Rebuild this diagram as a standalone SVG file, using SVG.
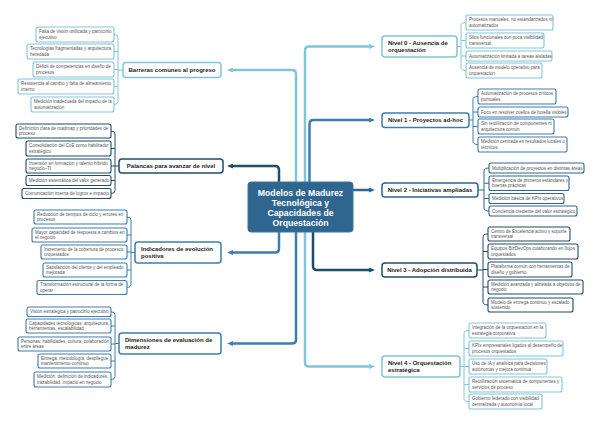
<svg xmlns="http://www.w3.org/2000/svg" width="600" height="425" viewBox="0 0 600 425">
<defs>
<style>
.lt{stroke:#80c5da}.md{stroke:#3d7eae}.dk{stroke:#1f4d6b}.nv{stroke:#2f6690}
.mn{fill:#fff;stroke-width:1.5}
.lf{fill:#fff;stroke-width:1.1}
.t1{font-family:"Liberation Sans",Arial,sans-serif;font-size:6px;font-weight:bold;fill:#1c1c1c}
.t2{font-family:"Liberation Sans",Arial,sans-serif;font-size:4.5px;fill:#555}
.tc{font-family:"Liberation Sans",Arial,sans-serif;font-size:8.7px;font-weight:bold;fill:#fff}
.cn{fill:none;stroke-width:2.5;stroke-linecap:butt}
.br{fill:none;stroke-width:1}
.mid{text-anchor:middle}
</style>
<marker id="aL" markerUnits="userSpaceOnUse" markerWidth="6" markerHeight="5" viewBox="0 0 6 5" refX="1" refY="2.5" orient="auto"><path d="M0,0L6,2.5L0,5z" fill="#80c5da"/></marker>
<marker id="aM" markerUnits="userSpaceOnUse" markerWidth="6" markerHeight="5" viewBox="0 0 6 5" refX="1" refY="2.5" orient="auto"><path d="M0,0L6,2.5L0,5z" fill="#3d7eae"/></marker>
<marker id="aD" markerUnits="userSpaceOnUse" markerWidth="6" markerHeight="5" viewBox="0 0 6 5" refX="1" refY="2.5" orient="auto"><path d="M0,0L6,2.5L0,5z" fill="#1f4d6b"/></marker>
<marker id="aN" markerUnits="userSpaceOnUse" markerWidth="6" markerHeight="5" viewBox="0 0 6 5" refX="1" refY="2.5" orient="auto"><path d="M0,0L6,2.5L0,5z" fill="#2f6690"/></marker>
</defs>
<rect width="600" height="425" fill="#fff"/>

<g id="connectors">
<path class="cn lt" d="M296,182V74Q296,70 292,70H232" marker-end="url(#aL)"/>
<path class="cn dk" d="M279,182V170Q279,166 275,166H232" marker-end="url(#aD)"/>
<path class="cn md" d="M279,232V248.5Q279,252.5 275,252.5H232" marker-end="url(#aM)"/>
<path class="cn md" d="M296,232V339.5Q296,343.5 292,343.5H232" marker-end="url(#aM)"/>
<path class="cn lt" d="M305,182V50.5Q305,46.5 309,46.5H370" marker-end="url(#aL)"/>
<path class="cn md" d="M309.5,182V124Q309.5,120 313.5,120H370" marker-end="url(#aM)"/>
<path class="cn nv" d="M353,190H370" marker-end="url(#aN)"/>
<path class="cn dk" d="M313,232V266Q313,270 317,270H370" marker-end="url(#aD)"/>
<path class="cn lt" d="M305,232V362.5Q305,366.5 309,366.5H370" marker-end="url(#aL)"/>
<path class="br lt" d="M114,34.5Q118,34.5 118,37.5V101.5Q118,104.5 114,104.5M114,51.5H118M114,69.5H118M114,86.5H118M118,70H123"/>
<path class="br dk" d="M111,131Q115,131 115,134V190.5Q115,193.5 111,193.5M111,148.5H115M111,166H115M111,180.5H115M115,166H119"/>
<path class="br md" d="M127,217Q131,217 131,220V284.5Q131,287.5 127,287.5M127,235H131M127,252H131M127,270H131M131,252.5H135"/>
<path class="br md" d="M111,311.75Q115,311.75 115,314.75V376.5Q115,379.5 111,379.5M111,326H115M111,344H115M111,361H115M115,343.5H119"/>
<path class="br lt" d="M466,22.5Q461,22.5 461,25.5V67.5Q461,70.5 466,70.5M466,40.5H461M466,56H461M461,46.5H457"/>
<path class="br md" d="M478,96.5Q473,96.5 473,99.5V141.5Q473,144.5 478,144.5M478,112H473M478,126.5H473M473,120H469"/>
<path class="br nv" d="M489,168Q484,168 484,171V208Q484,211 489,211M489,183.25H484M489,198.5H484M484,190H478"/>
<path class="br dk" d="M488,234Q483,234 483,237V302Q483,305 488,305M488,251.5H483M488,269.5H483M488,287H483M483,270H477"/>
<path class="br lt" d="M469,330.5Q464,330.5 464,333.5V398.5Q464,401.5 469,401.5M469,348.5H464M469,366.5H464M469,384.5H464M464,366.5H460"/>
</g>

<g id="center">
<rect x="248" y="182" width="105" height="50" rx="3" fill="#2f6690" stroke="#3a74a0" stroke-width="1"/>
<text class="tc mid" x="300.5" y="195.5">Modelos de Madurez</text>
<text class="tc mid" x="300.5" y="205.5">Tecnológica y</text>
<text class="tc mid" x="300.5" y="215.5">Capacidades de</text>
<text class="tc mid" x="300.5" y="225.5">Orquestación</text>
</g>

<g id="barreras"><rect class="mn lt" x="123" y="62.5" width="98" height="15" rx="3"/><text class="t1 mid" x="172" y="72.2">Barreras comunes al progreso</text></g>
<g id="palancas"><rect class="mn dk" x="119" y="159" width="104" height="14" rx="3"/><text class="t1 mid" x="171" y="168.2">Palancas para avanzar de nivel</text></g>
<g id="indicadores"><rect class="mn md" x="135" y="242" width="86" height="21" rx="3"/><text class="t1" x="141" y="250.5">Indicadores de evolución</text><text class="t1" x="141" y="258.3">positiva</text></g>
<g id="dimensiones"><rect class="mn md" x="119" y="333" width="102" height="21" rx="3"/><text class="t1" x="125" y="341.5">Dimensiones de evaluación de</text><text class="t1" x="125" y="349.3">madurez</text></g>
<g id="nivel0"><rect class="mn lt" x="382" y="36" width="75" height="21" rx="3"/><text class="t1" x="388" y="44.5">Nivel 0 - Ausencia de</text><text class="t1" x="388" y="52.3">orquestación</text></g>
<g id="nivel1"><rect class="mn md" x="382" y="113" width="87" height="14.5" rx="3"/><text class="t1 mid" x="425.5" y="122.2">Nivel 1 - Proyectos ad-hoc</text></g>
<g id="nivel2"><rect class="mn nv" x="382" y="183" width="96" height="14" rx="3"/><text class="t1 mid" x="430" y="192.2">Nivel 2 - Iniciativas ampliadas</text></g>
<g id="nivel3"><rect class="mn dk" x="382" y="263" width="95" height="14" rx="3"/><text class="t1 mid" x="429.5" y="272.2">Nivel 3 - Adopción distribuida</text></g>
<g id="nivel4"><rect class="mn lt" x="382" y="356" width="78" height="21" rx="3"/><text class="t1" x="388" y="364.5">Nivel 4 - Orquestación</text><text class="t1" x="388" y="372.3">estratégica</text></g>

<g id="b1"><rect class="lf lt" x="36" y="27" width="78" height="15" rx="2"/><text class="t2" x="39" y="33.2">Falta de visión unificada y patrocinio</text><text class="t2" x="39" y="38.6">ejecutivo</text></g>
<g id="b2"><rect class="lf lt" x="27" y="44" width="87" height="15" rx="2"/><text class="t2" x="30" y="50.2">Tecnologías fragmentadas y arquitectura</text><text class="t2" x="30" y="55.6">heredada</text></g>
<g id="b3"><rect class="lf lt" x="33" y="62" width="81" height="15" rx="2"/><text class="t2" x="36" y="68.2">Déficit de competencias en diseño de</text><text class="t2" x="36" y="73.6">procesos</text></g>
<g id="b4"><rect class="lf lt" x="18" y="79" width="96" height="15" rx="2"/><text class="t2" x="21" y="85.2">Resistencia al cambio y falta de alineamiento</text><text class="t2" x="21" y="90.6">interno</text></g>
<g id="b5"><rect class="lf lt" x="31" y="97" width="83" height="15" rx="2"/><text class="t2" x="34" y="103.2">Medición inadecuada del impacto de la</text><text class="t2" x="34" y="108.6">automatización</text></g>

<g id="p1"><rect class="lf dk" x="16" y="124" width="95" height="14" rx="2"/><text class="t2" x="19" y="129.8">Definición clara de roadmap y prioridades de</text><text class="t2" x="19" y="135.2">proceso</text></g>
<g id="p2"><rect class="lf dk" x="26" y="141" width="85" height="15" rx="2"/><text class="t2" x="29" y="147.2">Consolidación del CoE como habilitador</text><text class="t2" x="29" y="152.6">estratégico</text></g>
<g id="p3"><rect class="lf dk" x="26" y="159" width="85" height="14" rx="2"/><text class="t2" x="29" y="164.8">Inversión en formación y talento híbrido</text><text class="t2" x="29" y="170.2">negocio–TI</text></g>
<g id="p4"><rect class="lf dk" x="26" y="175.5" width="85" height="10" rx="2"/><text class="t2" x="29" y="182.1">Medición sistemática del valor generado</text></g>
<g id="p5"><rect class="lf dk" x="22" y="188.5" width="89" height="10" rx="2"/><text class="t2" x="25" y="195.1">Comunicación interna de logros e impacto</text></g>

<g id="i1"><rect class="lf md" x="34" y="210" width="93" height="14" rx="2"/><text class="t2" x="37" y="215.8">Reducción de tiempos de ciclo y errores en</text><text class="t2" x="37" y="221.2">procesos</text></g>
<g id="i2"><rect class="lf md" x="32" y="228" width="95" height="14" rx="2"/><text class="t2" x="35" y="233.8">Mayor capacidad de respuesta a cambios en</text><text class="t2" x="35" y="239.2">el negocio</text></g>
<g id="i3"><rect class="lf md" x="41" y="245" width="86" height="14" rx="2"/><text class="t2" x="44" y="250.8">Incremento de la cobertura de procesos</text><text class="t2" x="44" y="256.2">orquestados</text></g>
<g id="i4"><rect class="lf md" x="43" y="263" width="84" height="14" rx="2"/><text class="t2" x="46" y="268.8">Satisfacción del cliente y del empleado</text><text class="t2" x="46" y="274.2">mejorada</text></g>
<g id="i5"><rect class="lf md" x="37" y="280.5" width="90" height="14" rx="2"/><text class="t2" x="40" y="286.3">Transformación estructural de la forma de</text><text class="t2" x="40" y="291.7">operar</text></g>

<g id="d1"><rect class="lf md" x="27" y="307" width="84" height="9.5" rx="2"/><text class="t2" x="30" y="313.4">Visión estratégica y patrocinio ejecutivo</text></g>
<g id="d2"><rect class="lf md" x="26" y="319" width="85" height="14" rx="2"/><text class="t2" x="29" y="324.8">Capacidades tecnológicas: arquitectura,</text><text class="t2" x="29" y="330.2">herramientas, escalabilidad</text></g>
<g id="d3"><rect class="lf md" x="18" y="337" width="93" height="14" rx="2"/><text class="t2" x="21" y="342.8">Personas: habilidades, cultura, colaboración</text><text class="t2" x="21" y="348.2">entre áreas</text></g>
<g id="d4"><rect class="lf md" x="38" y="354" width="73" height="14" rx="2"/><text class="t2" x="41" y="359.8">Entrega: metodología, despliegue,</text><text class="t2" x="41" y="365.2">mantenimiento continuo</text></g>
<g id="d5"><rect class="lf md" x="34" y="372" width="77" height="15" rx="2"/><text class="t2" x="37" y="378.2">Medición: definición de indicadores,</text><text class="t2" x="37" y="383.6">trazabilidad, impacto en negocio</text></g>

<g id="n0a"><rect class="lf lt" x="466" y="15" width="87" height="15" rx="2"/><text class="t2" x="469" y="21.2">Procesos manuales, no estandarizados ni</text><text class="t2" x="469" y="26.6">automatizados</text></g>
<g id="n0b"><rect class="lf lt" x="466" y="33" width="78" height="15" rx="2"/><text class="t2" x="469" y="39.2">Silos funcionales con poca visibilidad</text><text class="t2" x="469" y="44.6">transversal</text></g>
<g id="n0c"><rect class="lf lt" x="466" y="51" width="86" height="10" rx="2"/><text class="t2" x="469" y="57.6">Automatización limitada a tareas aisladas</text></g>
<g id="n0d"><rect class="lf lt" x="466" y="63" width="76" height="15" rx="2"/><text class="t2" x="469" y="69.2">Ausencia de modelo operativo para</text><text class="t2" x="469" y="74.6">orquestación</text></g>

<g id="n1a"><rect class="lf md" x="478" y="89" width="78" height="15" rx="2"/><text class="t2" x="481" y="95.2">Automatización de procesos críticos</text><text class="t2" x="481" y="100.6">puntuales</text></g>
<g id="n1b"><rect class="lf md" x="478" y="107" width="90" height="10" rx="2"/><text class="t2" x="481" y="113.6">Foco en resolver cuellos de botella visibles</text></g>
<g id="n1c"><rect class="lf md" x="478" y="119" width="76" height="15" rx="2"/><text class="t2" x="481" y="125.2">Sin reutilización de componentes ni</text><text class="t2" x="481" y="130.6">arquitectura común</text></g>
<g id="n1d"><rect class="lf md" x="478" y="137" width="89" height="15" rx="2"/><text class="t2" x="481" y="143.2">Medición centrada en resultados locales o</text><text class="t2" x="481" y="148.6">técnicos</text></g>

<g id="n2a"><rect class="lf nv" x="489" y="163" width="95" height="10" rx="2"/><text class="t2" x="492" y="169.6">Multiplicación de proyectos en distintas áreas</text></g>
<g id="n2b"><rect class="lf nv" x="489" y="176" width="80" height="14.5" rx="2"/><text class="t2" x="492" y="182">Emergencia de primeros estándares y</text><text class="t2" x="492" y="187.4">buenas prácticas</text></g>
<g id="n2c"><rect class="lf nv" x="489" y="193.5" width="75" height="10" rx="2"/><text class="t2" x="492" y="200.1">Medición básica de KPIs operativos</text></g>
<g id="n2d"><rect class="lf nv" x="489" y="206" width="88" height="10" rx="2"/><text class="t2" x="492" y="212.6">Conciencia creciente del valor estratégico</text></g>

<g id="n3a"><rect class="lf dk" x="488" y="227" width="82" height="14" rx="2"/><text class="t2" x="491" y="232.8">Centro de Excelencia activo y soporte</text><text class="t2" x="491" y="238.2">transversal</text></g>
<g id="n3b"><rect class="lf dk" x="488" y="244" width="90" height="15" rx="2"/><text class="t2" x="491" y="250.2">Equipos BizDevOps colaborando en flujos</text><text class="t2" x="491" y="255.6">orquestados</text></g>
<g id="n3c"><rect class="lf dk" x="488" y="262" width="84" height="15" rx="2"/><text class="t2" x="491" y="268.2">Plataforma común con herramientas de</text><text class="t2" x="491" y="273.6">diseño y gobierno</text></g>
<g id="n3d"><rect class="lf dk" x="488" y="280" width="95" height="14" rx="2"/><text class="t2" x="491" y="285.8">Medición avanzada y alineada a objetivos de</text><text class="t2" x="491" y="291.2">negocio</text></g>
<g id="n3e"><rect class="lf dk" x="488" y="298" width="85" height="14" rx="2"/><text class="t2" x="491" y="303.8">Modelo de entrega continuo y escalado</text><text class="t2" x="491" y="309.2">sostenido</text></g>

<g id="n4a"><rect class="lf lt" x="469" y="323" width="77" height="15" rx="2"/><text class="t2" x="472" y="329.2">Integración de la orquestación en la</text><text class="t2" x="472" y="334.6">estrategia corporativa</text></g>
<g id="n4b"><rect class="lf lt" x="469" y="341" width="94" height="15" rx="2"/><text class="t2" x="472" y="347.2">KPIs empresariales ligados al desempeño de</text><text class="t2" x="472" y="352.6">procesos orquestados</text></g>
<g id="n4c"><rect class="lf lt" x="469" y="359" width="78" height="15" rx="2"/><text class="t2" x="472" y="365.2">Uso de IA y analítica para decisiones</text><text class="t2" x="472" y="370.6">autónomas y mejora continua</text></g>
<g id="n4d"><rect class="lf lt" x="469" y="377" width="93" height="15" rx="2"/><text class="t2" x="472" y="383.2">Reutilización sistemática de componentes y</text><text class="t2" x="472" y="388.6">servicios de proceso</text></g>
<g id="n4e"><rect class="lf lt" x="469" y="394" width="73" height="15" rx="2"/><text class="t2" x="472" y="400.2">Gobierno federado con visibilidad</text><text class="t2" x="472" y="405.6">centralizada y autonomía local</text></g>
</svg>
